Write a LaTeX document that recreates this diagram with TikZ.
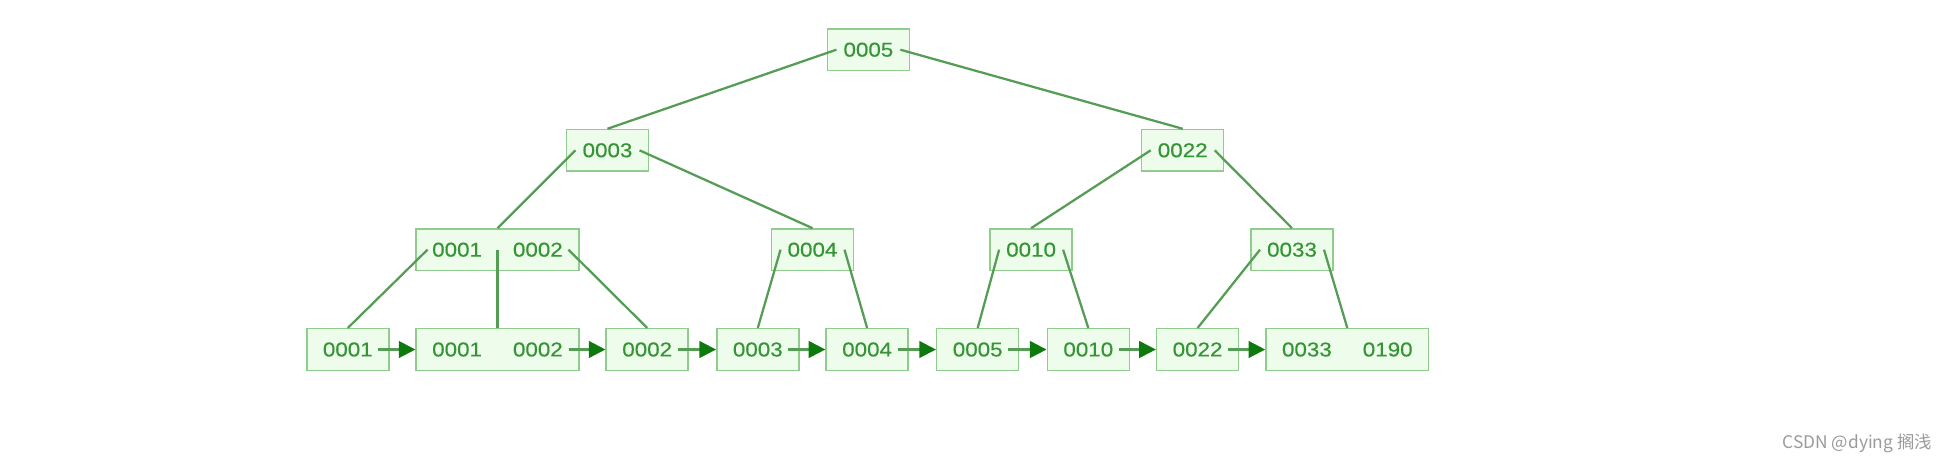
\documentclass[tikz,border=0pt]{standalone}
\usepackage{fontspec}
\usetikzlibrary{arrows.meta,calc}
\newfontfamily\labelfont[FakeStretch=1.12,FakeBold=0.4]{Liberation Sans}
\newfontfamily\cjk{Noto Sans CJK SC}
\definecolor{boxfill}{HTML}{EDFCEB}
\definecolor{boxdraw}{HTML}{90CC8E}
\definecolor{textcol}{HTML}{359535}
\definecolor{linecol}{HTML}{559C55}
\definecolor{headcol}{HTML}{0E7A0E}
\definecolor{wmgray}{HTML}{9A9A9A}
\newcommand\twokeys[2]{\makebox[60.6pt]{#1}\makebox[60.6pt]{#2}}
\begin{document}
\begin{tikzpicture}[x=0.75pt,y=-0.75pt,
  key/.style={draw=boxdraw, fill=boxfill, line width=1.1pt, minimum width=61.5pt,
    minimum height=31.2pt, inner sep=0pt, text=textcol,
    font=\labelfont\fontsize{15}{18}\selectfont},
  widekey/.style={key, minimum width=122pt},
  link/.style={draw=linecol, line width=1.7pt},
  nextlink/.style={link, -{Triangle[length=12.5pt,width=12.5pt,color=headcol]}}
]
\useasboundingbox (0,0) rectangle (1948,462);

% internal nodes
\node[key] (r) at (868.4,49.7) {\raisebox{-0.8pt}{0005}};
\node[key] (a) at (607.5,150.3) {\raisebox{-0.8pt}{0003}};
\node[key] (b) at (1182.7,150.3) {\raisebox{-0.8pt}{0022}};
\node[widekey] (c) at (497.5,249.7) {\raisebox{-0.8pt}{\twokeys{0001}{0002}}};
\node[key] (d) at (812.5,249.7) {\raisebox{-0.8pt}{0004}};
\node[key] (e) at (1031.1,249.7) {\raisebox{-0.8pt}{0010}};
\node[key] (f) at (1292.0,249.7) {\raisebox{-0.8pt}{0033}};

% leaves
\node[key] (l1) at (347.8,349.5) {\raisebox{-0.8pt}{0001}};
\node[widekey] (l2) at (497.5,349.5) {\raisebox{-0.8pt}{\twokeys{0001}{0002}}};
\node[key] (l3) at (647.2,349.5) {\raisebox{-0.8pt}{0002}};
\node[key] (l4) at (757.8,349.5) {\raisebox{-0.8pt}{0003}};
\node[key] (l5) at (867.1,349.5) {\raisebox{-0.8pt}{0004}};
\node[key] (l6) at (977.7,349.5) {\raisebox{-0.8pt}{0005}};
\node[key] (l7) at (1088.3,349.5) {\raisebox{-0.8pt}{0010}};
\node[key] (l8) at (1197.6,349.5) {\raisebox{-0.8pt}{0022}};
\node[widekey] (l9) at (1347.3,349.5) {\raisebox{-0.8pt}{\twokeys{0033}{0190}}};

% pointer coordinates
\coordinate (rL) at ($(r.center)+(-32,0)$);
\coordinate (rR) at ($(r.center)+(32,0)$);
\coordinate (aL) at ($(a.center)+(-32,0)$);
\coordinate (aR) at ($(a.center)+(32,0)$);
\coordinate (bL) at ($(b.center)+(-32,0)$);
\coordinate (bR) at ($(b.center)+(32,0)$);
\coordinate (cL) at ($(c.center)+(-70,0)$);
\coordinate (cM) at (c.center);
\coordinate (cR) at ($(c.center)+(71,0)$);
\coordinate (dL) at ($(d.center)+(-32,0)$);
\coordinate (dR) at ($(d.center)+(32,0)$);
\coordinate (eL) at ($(e.center)+(-32,0)$);
\coordinate (eR) at ($(e.center)+(32,0)$);
\coordinate (fL) at ($(f.center)+(-32,0)$);
\coordinate (fR) at ($(f.center)+(32,0)$);

% tree links
\draw[link] (rL) -- (a.north);
\draw[link] (rR) -- (b.north);
\draw[link] (aL) -- (c.north);
\draw[link] (aR) -- (d.north);
\draw[link] (bL) -- (e.north);
\draw[link] (bR) -- (f.north);
\draw[link] (cL) -- (l1.north);
\draw[link] (cM) -- (l2.north);
\draw[link] (cR) -- (l3.north);
\draw[link] (dL) -- (l4.north);
\draw[link] (dR) -- (l5.north);
\draw[link] (eL) -- (l6.north);
\draw[link] (eR) -- (l7.north);
\draw[link] (fL) -- (l8.north);
\draw[link] (fR) -- (l9.north);

% leaf chain
\coordinate (p1) at ($(l1.center)+(30.4,0)$);
\coordinate (p2) at ($(l2.center)+(71,0)$);
\coordinate (p3) at ($(l3.center)+(30.4,0)$);
\coordinate (p4) at ($(l4.center)+(30.4,0)$);
\coordinate (p5) at ($(l5.center)+(30.4,0)$);
\coordinate (p6) at ($(l6.center)+(30.4,0)$);
\coordinate (p7) at ($(l7.center)+(30.4,0)$);
\coordinate (p8) at ($(l8.center)+(30.4,0)$);
\draw[nextlink] (p1) -- (l2.west);
\draw[nextlink] (p2) -- (l3.west);
\draw[nextlink] (p3) -- (l4.west);
\draw[nextlink] (p4) -- (l5.west);
\draw[nextlink] (p5) -- (l6.west);
\draw[nextlink] (p6) -- (l7.west);
\draw[nextlink] (p7) -- (l8.west);
\draw[nextlink] (p8) -- (l9.west);

% watermark
\node[anchor=east, inner sep=0pt, text=wmgray, font=\cjk\fontsize{13}{15}\selectfont] (wm) at (1932,443.5) {CSDN @dying 搁浅};
\end{tikzpicture}
\end{document}
